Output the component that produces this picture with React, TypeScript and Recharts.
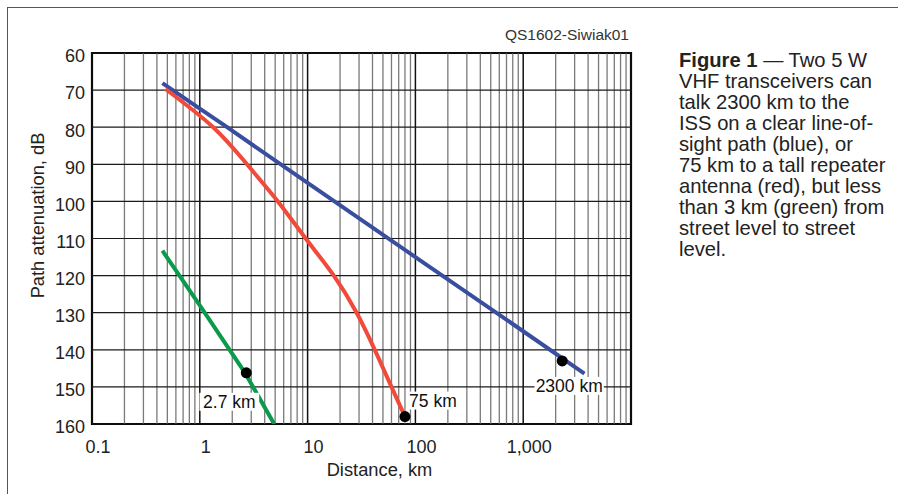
import React from "react";
import {
  ComposedChart,
  Line,
  XAxis,
  YAxis,
  ReferenceLine,
  ReferenceArea,
  ReferenceDot,
} from "recharts";

const FONT = '"Liberation Sans", Arial, Helvetica, sans-serif';

// distance (km) vs path attenuation (dB)
const blueLineOfSight = [
  { km: 0.45, db: 68.1 },
  { km: 1, db: 75 },
  { km: 1.79, db: 80 },
  { km: 10, db: 95 },
  { km: 100, db: 115 },
  { km: 1000, db: 135 },
  { km: 3700, db: 146.4 },
];

const redRepeater = [
  { km: 0.48, db: 69.7 },
  { km: 1.33, db: 80 },
  { km: 2.74, db: 90 },
  { km: 5.3, db: 100 },
  { km: 9.6, db: 110 },
  { km: 17.5, db: 120 },
  { km: 28.5, db: 130 },
  { km: 42, db: 140 },
  { km: 60, db: 150 },
  { km: 80, db: 158 },
];

const greenStreet = [
  { km: 0.45, db: 113.3 },
  { km: 1, db: 128 },
  { km: 2.6, db: 146 },
  { km: 4.9, db: 160 },
];

const markers = [
  { km: 2.7, db: 146.2, text: "2.7 km" },
  { km: 80, db: 158, text: "75 km" },
  { km: 2300, db: 143, text: "2300 km" },
];

const KM_TICKS = [0.1, 1, 10, 100, 1000];
const DECADES = [0.1, 1, 10, 100, 1000, 10000];
const MINOR_STEPS = [2, 3, 4, 5, 6, 7, 8, 9];
const DB_TICKS = [60, 70, 80, 90, 100, 110, 120, 130, 140, 150, 160];

const CAPTION = [
  "VHF transceivers can",
  "talk 2300 km to the",
  "ISS on a clear line-of-",
  "sight path (blue), or",
  "75 km to a tall repeater",
  "antenna (red), but less",
  "than 3 km (green) from",
  "street level to street",
  "level.",
];

const minorGrid = DECADES.slice(0, -1).flatMap((d) =>
  MINOR_STEPS.map((m) => Number((d * m).toPrecision(3)))
);

const fmtKm = (v: number) =>
  v >= 1000 ? v.toLocaleString("en-US") : String(v);

const LABEL_FS = 17.5;

function KmTag(props: any) {
  const { viewBox, text, offX = 0, offY = 0 } = props;
  if (!viewBox) return null;
  const cx = viewBox.x + viewBox.width / 2 + offX;
  const cy = viewBox.y + viewBox.height / 2 + offY;
  const w = text.length * LABEL_FS * 0.55 + 2;
  return (
    <g>
      <rect x={cx - w / 2} y={cy - 9} width={w} height={18} fill="#fff" />
      <text
        x={cx}
        y={cy + 6}
        textAnchor="middle"
        fontSize={LABEL_FS}
        fontFamily={FONT}
        fill="#111"
      >
        {text}
      </text>
    </g>
  );
}

const tagOffsets = [
  { offX: -17, offY: 29 },
  { offX: 28, offY: -16 },
  { offX: 7, offY: 25 },
];

export default function App() {
  return (
    <div
      style={{
        position: "absolute",
        left: 0,
        top: 0,
        width: 898,
        height: 494,
        background: "#fff",
        fontFamily: FONT,
        overflow: "hidden",
      }}
    >
      <div
        style={{
          position: "absolute",
          left: 7,
          top: 7,
          right: 0,
          bottom: 0,
          borderTop: "1.5px solid #555",
          borderLeft: "1.5px solid #555",
        }}
      />
      <div
        style={{
          position: "absolute",
          right: 898 - 629,
          top: 26,
          fontSize: 15.5,
          color: "#333",
          whiteSpace: "nowrap",
        }}
      >
        QS1602-Siwiak01
      </div>
      <div
        style={{
          position: "absolute",
          left: 679,
          top: 50,
          fontSize: 20.2,
          lineHeight: "21px",
          color: "#222",
          whiteSpace: "nowrap",
        }}
      >
        <div>
          <b>Figure 1</b> — Two 5 W
        </div>
        {CAPTION.map((line) => (
          <div key={line}>{line}</div>
        ))}
      </div>

      <ComposedChart
        width={898}
        height={494}
        margin={{ top: 53, right: 267, bottom: 18, left: 0 }}
        style={{ position: "absolute", left: 0, top: 0 }}
      >
        <XAxis
          type="number"
          dataKey="km"
          scale="log"
          domain={[0.1, 10000]}
          allowDataOverflow
          ticks={KM_TICKS}
          tickFormatter={fmtKm}
          height={52}
          axisLine={false}
          tickLine={false}
          tickSize={8}
          tickMargin={8}
          tick={{ fontSize: 18, fill: "#222", fontFamily: FONT, dx: 6 }}
          label={{
            value: "Distance, km",
            position: "insideBottom",
            offset: 0,
            dx: 18,
            fontSize: 18.3,
            fill: "#222",
            fontFamily: FONT,
          }}
        />
        <YAxis
          type="number"
          dataKey="db"
          domain={[60, 160]}
          reversed
          allowDataOverflow
          ticks={DB_TICKS}
          width={92}
          axisLine={false}
          tickLine={false}
          tickSize={5}
          tickMargin={2}
          tick={{ fontSize: 18, fill: "#222", fontFamily: FONT, dy: 3 }}
          label={{
            value: "Path attenuation, dB",
            angle: -90,
            position: "center",
            dx: -8,
            dy: -23,
            fontSize: 18.3,
            fill: "#222",
            fontFamily: FONT,
          }}
        />

        {minorGrid.map((v) => (
          <ReferenceLine key={"m" + v} x={v} stroke="#7a7a7a" strokeWidth={1.3} />
        ))}
        {DECADES.map((v) => (
          <ReferenceLine key={"d" + v} x={v} stroke="#111" strokeWidth={1.5} />
        ))}
        {DB_TICKS.map((v) => (
          <ReferenceLine key={"h" + v} y={v} stroke="#1a1a1a" strokeWidth={1.2} />
        ))}
        <ReferenceArea
          x1={0.1}
          x2={10000}
          y1={60}
          y2={160}
          fill="none"
          fillOpacity={0}
          stroke="#000"
          strokeWidth={2.2}
        />

        <Line
          data={blueLineOfSight}
          dataKey="db"
          type="linear"
          stroke="#3a4ea0"
          strokeWidth={4}
          dot={false}
          isAnimationActive={false}
        />
        <Line
          data={redRepeater}
          dataKey="db"
          type="natural"
          stroke="#f24a3a"
          strokeWidth={4}
          dot={false}
          isAnimationActive={false}
        />
        <Line
          data={greenStreet}
          dataKey="db"
          type="linear"
          stroke="#0a9a4c"
          strokeWidth={4}
          dot={false}
          isAnimationActive={false}
        />

        {markers.map((m, i) => (
          <ReferenceDot
            key={m.text}
            x={m.km}
            y={m.db}
            r={5.5}
            fill="#000"
            stroke="none"
            label={<KmTag text={m.text} {...tagOffsets[i]} />}
          />
        ))}
      </ComposedChart>
    </div>
  );
}
